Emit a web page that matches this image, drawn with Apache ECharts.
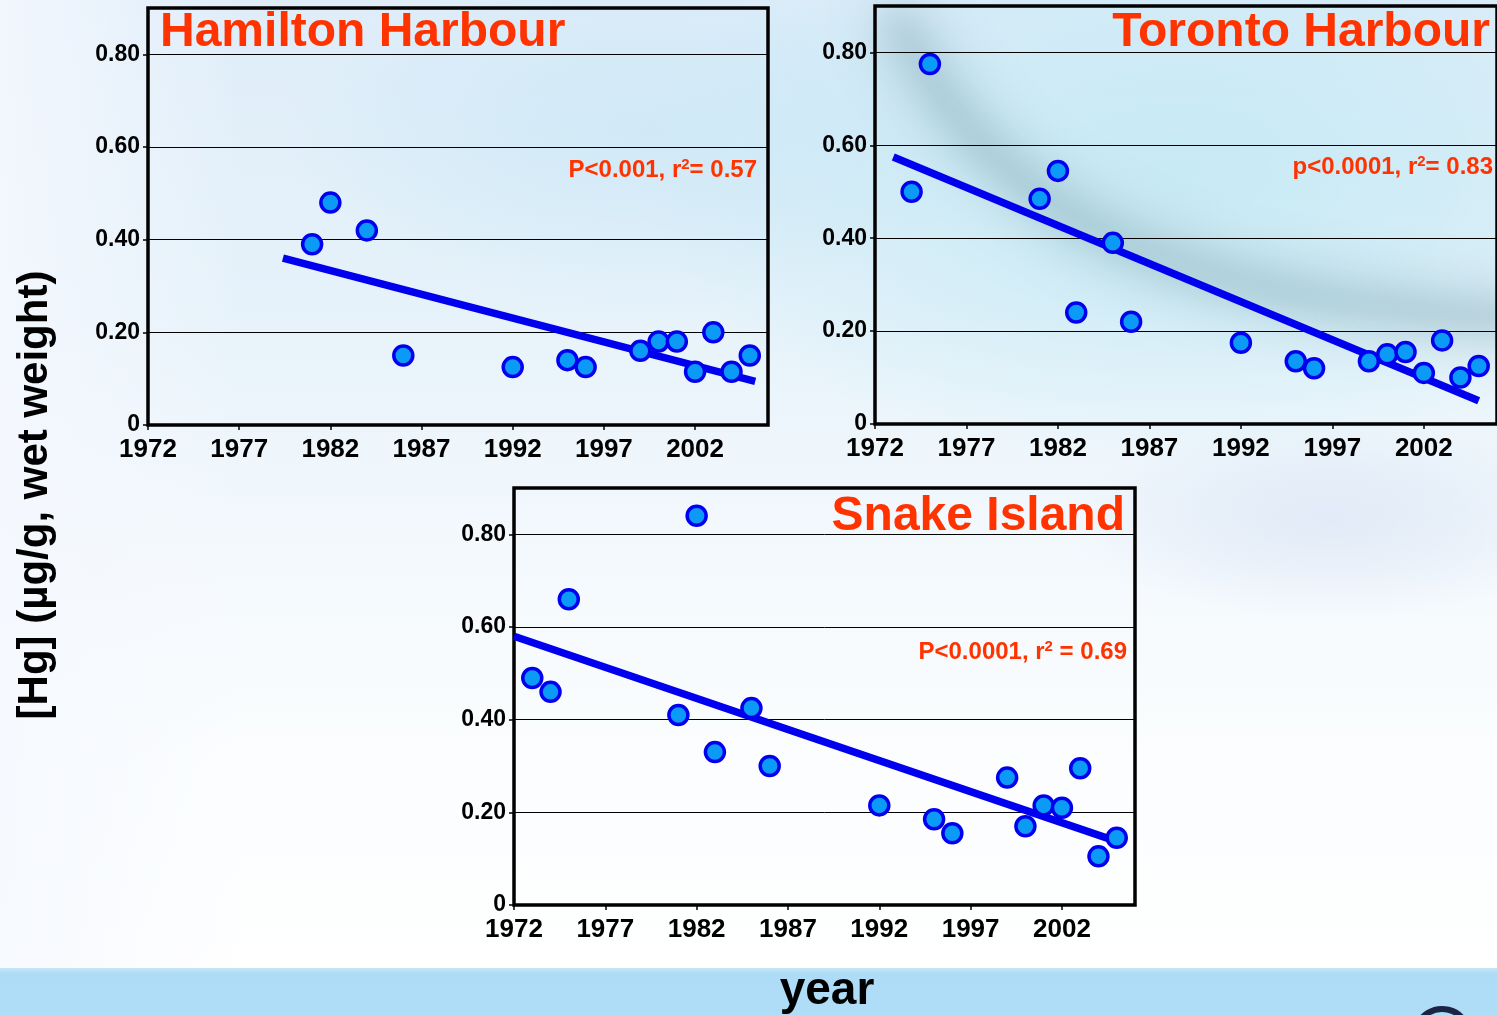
<!DOCTYPE html>
<html><head><meta charset="utf-8">
<script src="https://cdn.jsdelivr.net/npm/echarts@6/dist/echarts.min.js"></script>
<style>html,body{margin:0;padding:0;overflow:hidden;background:#fff}#c{width:1497px;height:1015px}</style>
</head><body><div id="c"></div>
<script>
// ---- data ----
const xMin = 1972, xMax = 2006, xStep = 5;
const yMin = 0, yMax = 0.9, yStep = 0.2;

const hamYears = [1981, 1982, 1984, 1986, 1992, 1995, 1996, 1999, 2000, 2001, 2002, 2003, 2004, 2005];
const hamHg    = [0.39, 0.48, 0.42, 0.15, 0.125, 0.14, 0.125, 0.16, 0.18, 0.18, 0.115, 0.20, 0.115, 0.15];
const hamTrendYears = [1979.4, 2005.3];
const hamTrendHg    = [0.36, 0.094];

const torYears = [1974, 1975, 1981, 1982, 1983, 1985, 1986, 1992, 1995, 1996, 1999, 2000, 2001, 2002, 2003, 2004, 2005];
const torHg    = [0.50, 0.775, 0.485, 0.545, 0.24, 0.39, 0.22, 0.175, 0.135, 0.12, 0.135, 0.15, 0.155, 0.11, 0.18, 0.10, 0.125];
const torTrendYears = [1973, 2005];
const torTrendHg    = [0.575, 0.05];

const snkYears = [1973, 1974, 1975, 1981, 1982, 1983, 1985, 1986, 1992, 1995, 1996, 1999, 2000, 2001, 2002, 2003, 2004, 2005];
const snkHg    = [0.49, 0.46, 0.66, 0.41, 0.84, 0.33, 0.425, 0.30, 0.215, 0.185, 0.155, 0.275, 0.17, 0.215, 0.21, 0.295, 0.105, 0.145];
const snkTrendYears = [1972, 2004.8];
const snkTrendHg    = [0.58, 0.14];

const panelTitles = ['Hamilton Harbour', 'Toronto Harbour', 'Snake Island'];
const panelStats  = ['P<0.001, r{s|2}= 0.57', 'p<0.0001, r{s|2}= 0.83', 'P<0.0001, r{s|2} = 0.69'];
const yAxisTitle = '[Hg] (µg/g, wet weight)';
const xAxisTitle = 'year';

// ---- chart ----
const FONT = '"Liberation Sans", Arial, sans-serif';
const RED = '#ff3300';
const zip = (a, b) => a.map((v, i) => [v, b[i]]);

const grids = [
  {left: 148, top: 8, width: 620, height: 417},
  {left: 875, top: 6, width: 629, height: 418},
  {left: 514, top: 488, width: 621, height: 417}
];

function xAxis(i) {
  return {
    type: 'value', gridIndex: i, min: xMin, max: xMax, interval: xStep,
    axisLine: {show: true, onZero: false, lineStyle: {color: '#000', width: 2}},
    axisTick: {show: true, length: 5, lineStyle: {color: '#000', width: 1.5}},
    splitLine: {show: false},
    axisLabel: {
      color: '#000', fontFamily: FONT, fontWeight: 'bold', fontSize: 26, margin: 12,
      showMaxLabel: false,
      formatter: v => (v === xMax ? '' : String(v))
    }
  };
}
function yAxis(i) {
  return {
    type: 'value', gridIndex: i, min: yMin, max: yMax, interval: yStep,
    axisLine: {show: true, lineStyle: {color: '#000', width: 2}},
    axisTick: {show: true, length: 5, lineStyle: {color: '#000', width: 1.5}},
    splitLine: {show: true, lineStyle: {color: '#000', width: 1}},
    axisLabel: {
      color: '#000', fontFamily: FONT, fontWeight: 'bold', fontSize: 23, margin: 8,
      showMaxLabel: false,
      formatter: v => (v === 0 ? '0' : (Math.abs(v - yMax) < 1e-9 ? '' : v.toFixed(2)))
    }
  };
}

function scatter(i, xs, ys) {
  return {
    type: 'scatter', xAxisIndex: i, yAxisIndex: i, data: zip(xs, ys),
    symbol: 'circle', symbolSize: 19, z: 5,
    itemStyle: {color: '#0b9bf7', borderColor: '#0000f0', borderWidth: 3.5, opacity: 1},
    silent: true
  };
}
function trend(i, xs, ys) {
  return {
    type: 'line', xAxisIndex: i, yAxisIndex: i, data: zip(xs, ys),
    showSymbol: false, symbol: 'none', z: 3, silent: true,
    lineStyle: {color: '#0000ee', width: 7.5, cap: 'butt'}
  };
}

const titleBase = {padding: 0, textStyle: {color: RED, fontFamily: FONT, fontWeight: 'bold', fontSize: 48}};

function blob(x, y, r, sx, sy, rot, rgb, a) {
  return {
    type: 'circle', z: -18, silent: true, x: x, y: y, scaleX: sx, scaleY: sy, rotation: rot,
    shape: {cx: 0, cy: 0, r: r},
    style: {fill: {type: 'radial', x: 0.5, y: 0.5, r: 0.5, colorStops: [
      {offset: 0, color: 'rgba(' + rgb + ',' + a + ')'},
      {offset: 0.5, color: 'rgba(' + rgb + ',' + (a * 0.6) + ')'},
      {offset: 1, color: 'rgba(' + rgb + ',0)'}]}}
  };
}
function swoosh(shift, width, blur, color) {
  return {
    type: 'bezierCurve', z: -16, silent: true,
    shape: {x1: 900 - shift, y1: 25, cpx1: 995 - shift, cpy1: 215, cpx2: 1160 - shift, cpy2: 300, x2: 1520 - shift, y2: 318},
    style: {stroke: '#000', lineWidth: width, fill: null, lineCap: 'round',
            shadowColor: color, shadowBlur: blur, shadowOffsetX: shift, shadowOffsetY: 0}
  };
}
function statText(x, y, txt) {
  return {type: 'text', z: 10, silent: true, x: x, y: y,
    style: {text: txt, fill: RED, font: 'bold 24px ' + FONT, textAlign: 'right', textVerticalAlign: 'middle',
      rich: {s: {fill: RED, font: 'bold 15px ' + FONT, padding: [0, 0, 10, 0]}}}};
}

const option = {
  animation: false,
  backgroundColor: {
    type: 'linear', x: 0, y: 0, x2: 0, y2: 1,
    colorStops: [
      {offset: 0, color: '#dfedf9'},
      {offset: 0.3, color: '#e6f2fa'},
      {offset: 0.55, color: '#f4f9fd'},
      {offset: 0.75, color: '#fbfdfe'},
      {offset: 1, color: '#ffffff'}
    ]
  },
  grid: grids.map(g => Object.assign({show: true, borderColor: '#000', borderWidth: 3.5, backgroundColor: 'transparent', containLabel: false}, g)),
  xAxis: [0, 1, 2].map(xAxis),
  yAxis: [0, 1, 2].map(yAxis),
  title: [
    Object.assign({text: panelTitles[0], left: 160, top: 9}, titleBase),
    Object.assign({text: panelTitles[1], right: 7, top: 9}, titleBase),
    Object.assign({text: panelTitles[2], right: 372, top: 493}, titleBase)
  ],
  graphic: [
    {type: 'rect', z: -20, silent: true, shape: {x: 0, y: 0, width: 240, height: 968},
     style: {fill: {type: 'linear', x: 0, y: 0, x2: 1, y2: 0, colorStops: [
       {offset: 0, color: 'rgba(245,248,254,0.85)'}, {offset: 0.5, color: 'rgba(245,248,254,0.45)'}, {offset: 1, color: 'rgba(245,248,254,0)'}]}}},
    blob(1180, 170, 420, 1.3, 0.7, 0, '180,230,242', 0.6),
    blob(640, 130, 300, 1.2, 0.6, 0, '188,226,244', 0.45),
    blob(1330, 520, 220, 1.2, 0.45, 0, '205,218,240', 0.45),
    swoosh(3000, 48, 50, 'rgba(105,150,160,0.34)'),
    swoosh(3000, 18, 25, 'rgba(105,150,160,0.15)'),
    {type: 'rect', z: -10, silent: true, shape: {x: 0, y: 968, width: 1497, height: 47},
     style: {fill: {type: 'linear', x: 0, y: 0, x2: 0, y2: 1, colorStops: [
       {offset: 0, color: '#c6e6f6'}, {offset: 0.12, color: '#aedcf6'}, {offset: 1, color: '#b0ddf6'}]}}},
    {type: 'arc', z: -5, silent: true, shape: {cx: 1442, cy: 1036, r: 27, startAngle: -2.9, endAngle: -0.45, clockwise: true},
     style: {stroke: '#1b2442', lineWidth: 6, fill: null}},
    {type: 'text', z: 10, silent: true, x: 35, y: 495, rotation: Math.PI / 2,
     style: {text: yAxisTitle, fill: '#000', font: 'bold 42px ' + FONT, textAlign: 'center', textVerticalAlign: 'middle'}},
    {type: 'text', z: 10, silent: true, x: 827, y: 991,
     style: {text: xAxisTitle, fill: '#000', font: 'bold 46px ' + FONT, textAlign: 'center', textVerticalAlign: 'middle'}},
    statText(757, 170, panelStats[0]),
    statText(1493, 167, panelStats[1]),
    statText(1127, 652, panelStats[2])
  ],
  series: [
    trend(0, hamTrendYears, hamTrendHg), scatter(0, hamYears, hamHg),
    trend(1, torTrendYears, torTrendHg), scatter(1, torYears, torHg),
    trend(2, snkTrendYears, snkTrendHg), scatter(2, snkYears, snkHg)
  ]
};

const chart = echarts.init(document.getElementById('c'), null, {renderer: 'canvas', width: 1497, height: 1015});
chart.setOption(option);
</script>
</body></html>
